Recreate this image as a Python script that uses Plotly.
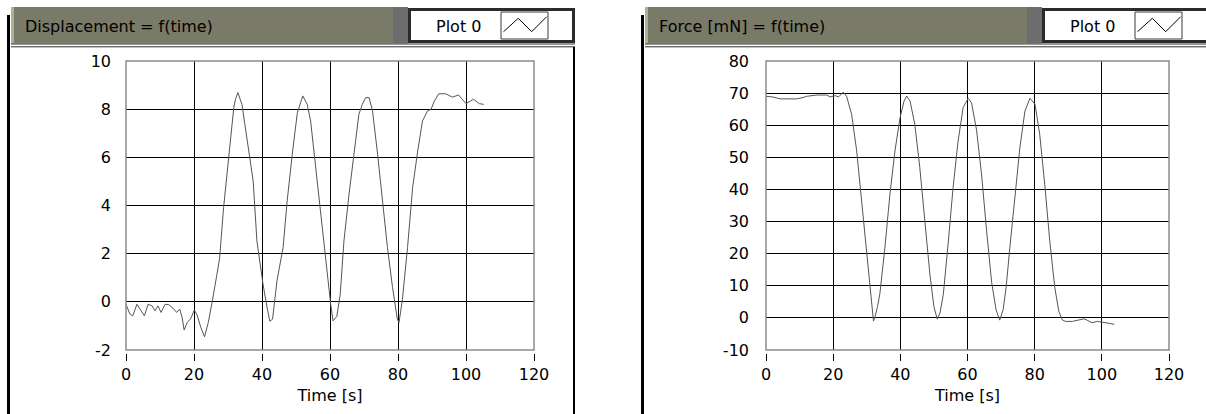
import plotly.graph_objects as go

# ---------------- data ----------------
disp_time = [0.0, 1.1, 2.0, 3.2, 4.3, 5.4, 6.5, 7.7, 8.5, 9.4, 10.3, 11.5, 12.6, 13.8, 14.9,
             15.8, 16.5, 17.1, 18.0, 18.9, 19.4, 20.1, 20.9, 22.0, 23.1, 24.2, 25.4, 26.4,
             27.5, 28.7, 30.2, 31.7, 32.2, 32.9, 34.1, 35.6, 37.4, 38.5, 40.3, 41.5, 42.3,
             43.1, 44.4, 46.2, 47.4, 48.9, 50.4, 52.0, 53.3, 54.3, 55.8, 57.2, 58.7, 60.2,
             60.9, 62.0, 63.0, 64.1, 65.6, 67.1, 68.5, 69.5, 70.5, 71.5, 72.5, 74.0, 75.4,
             76.9, 78.4, 79.8, 80.3, 81.3, 82.8, 84.3, 85.8, 87.2, 88.7, 89.7, 90.7, 92.0,
             94.0, 96.0, 97.8, 100.0, 102.2, 103.9, 105.2]
disp_value = [-0.1, -0.5, -0.58, -0.1, -0.34, -0.58, -0.1, -0.17, -0.37, -0.17, -0.44, -0.1,
              -0.12, -0.26, -0.44, -0.3, -0.65, -1.17, -0.86, -0.72, -0.58, -0.34, -0.54,
              -1.06, -1.45, -0.86, 0.04, 0.9, 1.77, 3.91, 5.99, 8.06, 8.41, 8.69, 8.2, 6.68,
              5.02, 2.53, 0.73, -0.24, -0.81, -0.72, 0.87, 2.25, 4.19, 6.13, 7.86, 8.55, 8.2,
              7.51, 5.57, 3.64, 1.84, -0.1, -0.79, -0.61, 0.3, 2.53, 4.47, 6.27, 7.79, 8.2,
              8.48, 8.48, 7.93, 6.13, 4.19, 2.25, 0.59, -0.72, -0.86, 0.1, 2.25, 4.74, 6.27,
              7.51, 7.93, 7.99, 8.34, 8.64, 8.64, 8.5, 8.59, 8.23, 8.41, 8.23, 8.2]

force_time = [0.0, 2.0, 4.2, 6.0, 9.1, 11.0, 12.1, 15.1, 18.1, 19.1, 20.6, 21.6, 23.0, 24.0,
              25.5, 27.0, 28.5, 30.0, 31.0, 31.6, 32.0, 32.5, 33.2, 33.9, 35.4, 36.9, 38.4,
              39.9, 41.1, 41.9, 42.9, 44.3, 45.8, 47.3, 48.8, 50.0, 51.0, 51.8, 52.8, 54.3,
              55.7, 57.2, 58.7, 60.2, 61.2, 62.7, 64.2, 65.7, 67.2, 68.5, 69.6, 70.6, 71.5,
              72.6, 74.1, 75.6, 77.1, 78.6, 80.1, 81.5, 83.0, 84.5, 86.0, 87.2, 88.2, 89.2,
              91.2, 92.9, 94.7, 95.6, 97.0, 98.7, 100.5, 102.2, 103.7]
force_value = [69.0, 68.8, 68.2, 68.2, 68.2, 68.6, 69.0, 69.4, 69.4, 68.8, 69.2, 68.8, 70.3,
               69.0, 63.4, 52.0, 36.4, 19.8, 9.0, 2.0, -1.0, 0.5, 3.5, 7.5, 21.8, 38.5, 52.0,
               62.3, 67.5, 69.1, 67.5, 60.3, 46.8, 30.2, 13.6, 3.5, -0.4, 1.5, 7.3, 23.9,
               40.5, 55.1, 65.5, 68.4, 67.0, 58.5, 44.5, 27.0, 11.0, 2.5, -0.7, 2.5, 9.5,
               21.8, 38.5, 53.0, 64.4, 68.4, 66.5, 57.2, 41.6, 23.9, 9.4, 2.0, -0.6, -1.1,
               -1.1, -0.7, -0.3, -0.7, -1.5, -1.1, -1.3, -1.7, -2.0]

panel_titles = ["Displacement = f(time)", "Force [mN] = f(time)"]
legend_name = "Plot 0"
x_title = "Time [s]"
x_ticks = [0, 20, 40, 60, 80, 100, 120]
disp_ticks = [-2, 0, 2, 4, 6, 8, 10]
force_ticks = [-10, 0, 10, 20, 30, 40, 50, 60, 70, 80]

# ---------------- layout helpers ----------------
W, H = 1206, 414
FONT = "DejaVu Sans"


def fx(x):
    return x / W


def fy(y):
    return 1 - y / H


fig = go.Figure()
fig.add_trace(go.Scatter(x=disp_time, y=disp_value, mode="lines", name=legend_name,
                         line=dict(color="#555555", width=1), xaxis="x", yaxis="y",
                         showlegend=False, hoverinfo="skip"))
fig.add_trace(go.Scatter(x=force_time, y=force_value, mode="lines", name=legend_name,
                         line=dict(color="#555555", width=1), xaxis="x2", yaxis="y2",
                         showlegend=False, hoverinfo="skip"))

axis_font = dict(family=FONT, size=16, color="black")
frames = [(126, 534, 61, 350), (766, 1169, 61, 350)]
xpos = fy(353)


def xax(dom):
    return dict(domain=[fx(dom[0]), fx(dom[1])], range=[0, 120], tickvals=x_ticks,
                ticktext=[str(v) for v in x_ticks],
                showgrid=True, gridcolor="black", gridwidth=1, zeroline=False,
                showline=False, ticks="outside", ticklen=7, tickwidth=1, tickcolor="black",
                anchor="free", position=xpos, tickfont=axis_font, automargin=False,
                title=dict(text=x_title, font=axis_font, standoff=6), fixedrange=True)


def yax(dom, rng, ticks, anchor, standoff):
    return dict(domain=[fy(dom[3]), fy(dom[2])], range=rng, tickvals=ticks,
                ticktext=[str(v) for v in ticks], automargin=False,
                showgrid=True, gridcolor="black", gridwidth=1, zeroline=False,
                showline=False, ticks="", anchor=anchor, tickfont=axis_font,
                ticklabelstandoff=standoff, fixedrange=True)


fig.update_layout(
    width=W, height=H,
    margin=dict(l=0, r=0, t=0, b=0, pad=0, autoexpand=False),
    paper_bgcolor="white", plot_bgcolor="white",
    xaxis=xax(frames[0]), yaxis=yax(frames[0], [-2, 10], disp_ticks, "x", 14),
    xaxis2=xax(frames[1]), yaxis2=yax(frames[1], [-10, 80], force_ticks, "x2", 16),
    showlegend=False, hovermode=False,
)

shapes = []
annotations = []


def rect(x0, x1, y0, y1, fill=None, line=None, lw=0, layer="above"):
    shapes.append(dict(type="rect", xref="paper", yref="paper",
                       x0=fx(x0), x1=fx(x1), y0=fy(y1), y1=fy(y0),
                       fillcolor=fill if fill else "rgba(0,0,0,0)",
                       line=dict(color=line if line else "rgba(0,0,0,0)", width=lw),
                       layer=layer))


def hline(x0, x1, y, color, lw):
    shapes.append(dict(type="line", xref="paper", yref="paper", x0=fx(x0), x1=fx(x1),
                       y0=fy(y), y1=fy(y), line=dict(color=color, width=lw)))


def vline(x, y0, y1, color, lw):
    shapes.append(dict(type="line", xref="paper", yref="paper", x0=fx(x), x1=fx(x),
                       y0=fy(y0), y1=fy(y1), line=dict(color=color, width=lw)))


for i, ox in enumerate([0, 634]):
    right_end = 575 + ox if i == 0 else W + 10
    # header band
    rect(11 + ox, 393 + ox, 7, 43.5, fill="#7a7a68")
    rect(11 + ox, 14 + ox, 7, 43.5, fill="#b0b098")
    rect(393 + ox, 408 + ox, 7, 43.5, fill="#6d6d6d")
    # legend box
    rect(409.5 + ox, right_end - 1.5, 9.5, 41.5, fill="white", line="#2b2b2b", lw=3)
    rect(501 + ox, 548 + ox, 12, 39, fill="white", line="#3a3a3a", lw=1)
    shapes.append(dict(type="path", xref="paper", yref="paper",
                       path="M {} {} L {} {} L {} {} L {} {}".format(
                           fx(503.5 + ox), fy(31.7), fx(518.3 + ox), fy(18.3),
                           fx(531.7 + ox), fy(31.7), fx(546.7 + ox), fy(16.7)),
                       line=dict(color="black", width=1)))
    # double separator lines
    hline(11 + ox, right_end, 44, "#303030", 1)
    hline(11 + ox, right_end, 46.8, "#303030", 1)
    # left black border
    vline(8.5 + ox, 15, H, "black", 3)
    # plot frame
    f = frames[i]
    rect(f[0], f[1], f[2], f[3], line="#8a8a8a", lw=1.5)
    annotations.append(dict(x=fx(23 + ox), y=fy(26), xref="paper", yref="paper",
                            text=panel_titles[i], showarrow=False, xanchor="left",
                            yanchor="middle", font=dict(family=FONT, size=16, color="black")))
    annotations.append(dict(x=fx(458 + ox), y=fy(26), xref="paper", yref="paper",
                            text=legend_name, showarrow=False, xanchor="center",
                            yanchor="middle", font=dict(family=FONT, size=16, color="black")))

# right border of left panel
vline(574, 47, H, "black", 2)

fig.update_layout(shapes=shapes, annotations=annotations)
fig.write_html(
    "out.html",
    config={"displayModeBar": False, "staticPlot": True},
    post_script="document.documentElement.style.margin='0';"
                "document.documentElement.style.overflow='hidden';"
                "document.body.style.margin='0';"
                "document.body.style.overflow='hidden';",
)
